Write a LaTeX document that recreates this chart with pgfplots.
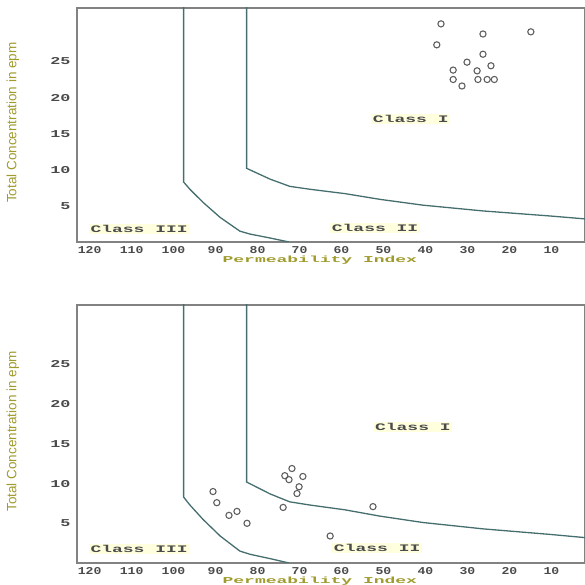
\documentclass[border=0pt]{standalone}
\usepackage{pgfplots}
\pgfplotsset{compat=1.18}
\usepackage{fontspec}
\setmainfont{Liberation Sans}
\setmonofont{Liberation Mono}
\usepackage{graphicx}
\definecolor{tickgray}{RGB}{75,75,75}
\definecolor{olivelab}{RGB}{160,155,45}
\definecolor{curvec}{RGB}{70,110,110}
\definecolor{framec}{RGB}{130,130,130}
\definecolor{markc}{RGB}{95,95,95}
\definecolor{glow}{RGB}{255,255,222}

\pgfplotstableread{
x y
97.6 34
97.6 8.3
96.1 7.3
93.0 5.5
88.9 3.4
84.2 1.5
81.8 1.1
77.0 0.55
72.5 0
}\curveA
\pgfplotstableread{
x y
82.6 34
82.6 10.2
77.0 8.7
72.3 7.7
67.5 7.3
59.2 6.7
50.8 5.9
40.6 5.1
26.3 4.3
10.3 3.6
1.0 3.15
}\curveB
\pgfplotstableread{
x y
36.3 30.2
26.3 28.8
14.9 29.1
37.3 27.3
26.3 26.0
30.1 24.9
33.4 23.8
27.7 23.7
24.4 24.4
33.4 22.5
31.3 21.6
27.5 22.5
25.3 22.5
23.6 22.5
}\ptsTop
\pgfplotstableread{
x y
90.6 9.0
89.7 7.6
86.8 6.0
84.9 6.5
82.5 5.0
71.8 11.9
73.5 11.0
72.5 10.5
69.2 10.9
70.1 9.6
70.6 8.75
73.9 7.0
52.5 7.1
62.7 3.4
}\ptsBot

\tikzset{classlab/.style={font=\fontsize{10}{10}\selectfont\ttfamily\bfseries, text=tickgray, fill=glow, inner sep=1.5pt}}

\pgfplotsset{
  doneen/.style={
    scale only axis,
    width=508pt,
    x dir=reverse,
    xmin=2, xmax=123,
    ymin=0,
    clip=true,
    axis line style={framec, line width=1.4pt},
    major tick length=0pt,
    xtick={10,20,...,120},
    ytick={5,10,...,25},
    /pgf/number format/assume math mode=true,
    xticklabel={\scalebox{1.25}[1]{\pgfmathprintnumber{\tick}}},
    yticklabel={\scalebox{1.6}[1]{\pgfmathprintnumber{\tick}}},
    xticklabel style={font=\fontsize{10.5}{10.5}\selectfont\ttfamily\bfseries, text=tickgray, yshift=-1pt},
    yticklabel style={font=\fontsize{10.5}{10.5}\selectfont\ttfamily\bfseries, text=tickgray, xshift=-3pt},
    xlabel={\scalebox{2.0}[1]{Permeability Index}},
    xlabel style={font=\fontsize{9}{9}\selectfont\ttfamily\bfseries, text=olivelab, at={(axis description cs:0.478,0)}, anchor=center, yshift=-18pt},
    ylabel={Total Concentration in epm},
    ylabel style={font=\fontsize{13.5}{13.5}\selectfont, text=olivelab, at={(axis description cs:-0.126,0.51)}, anchor=center},
  }
}

\newcommand{\classtext}[1]{\scalebox{1.8}[1]{#1}}

\begin{document}
\begin{tikzpicture}
\useasboundingbox (0pt,0pt) rectangle (585pt,585pt);
\begin{axis}[doneen, at={(77pt,343pt)}, anchor=south west, height=234pt, ymax=32.4]
  \addplot[curvec, line width=1.3pt] table[x=x,y=y] {\curveA};
  \addplot[curvec, line width=1.3pt] table[x=x,y=y] {\curveB};
  \addplot[only marks, mark=o, mark size=3.1pt, mark options={markc, line width=1.1pt}] table[x=x,y=y] {\ptsTop};
  \node[classlab] at (axis cs:43.5,17) {\classtext{Class I}};
  \node[classlab] at (axis cs:52,1.9) {\classtext{Class II}};
  \node[classlab] at (axis cs:108.2,1.8) {\classtext{Class III}};
\end{axis}
\begin{axis}[doneen, at={(77pt,22pt)}, anchor=south west, height=258pt, ymax=32.5]
  \addplot[curvec, line width=1.3pt] table[x=x,y=y] {\curveA};
  \addplot[curvec, line width=1.3pt] table[x=x,y=y] {\curveB};
  \addplot[only marks, mark=o, mark size=3.1pt, mark options={markc, line width=1.1pt}] table[x=x,y=y] {\ptsBot};
  \node[classlab] at (axis cs:43,17.1) {\classtext{Class I}};
  \node[classlab] at (axis cs:51.5,1.9) {\classtext{Class II}};
  \node[classlab] at (axis cs:108.2,1.8) {\classtext{Class III}};
\end{axis}
\end{tikzpicture}
\end{document}
